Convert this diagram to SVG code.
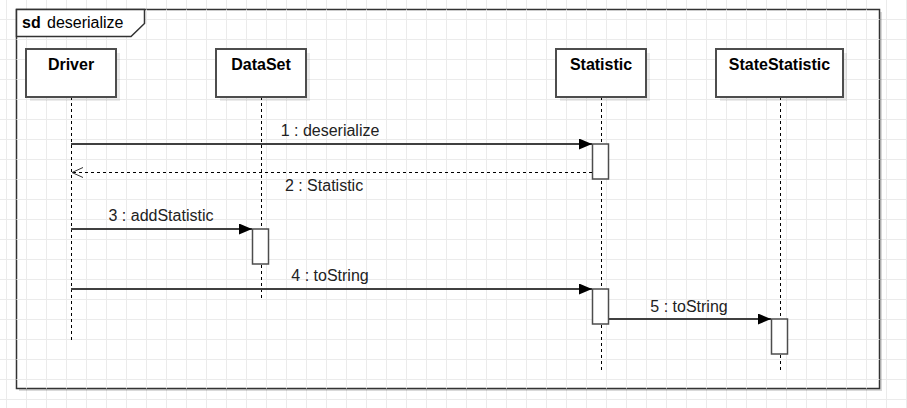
<svg xmlns="http://www.w3.org/2000/svg" width="907" height="408" viewBox="0 0 907 408">
<defs>
<pattern id="grid" x="6" y="-1" width="20" height="20" patternUnits="userSpaceOnUse">
<path d="M0.5 0V20M0 0.5H20" fill="none" stroke="#ebebeb" stroke-width="1"/>
</pattern>
<marker id="filled" viewBox="0 0 13 11" refX="13" refY="5.5" markerWidth="13" markerHeight="11" markerUnits="userSpaceOnUse" orient="auto">
<path d="M0 0L13 5.5L0 11Z" fill="#000"/>
</marker>
<marker id="open" viewBox="0 0 12 12" refX="11" refY="6" markerWidth="12" markerHeight="12" markerUnits="userSpaceOnUse" orient="auto">
<path d="M0 1L11 6L0 11" fill="none" stroke="#333" stroke-width="1"/>
</marker>
</defs>
<style>
.box{fill:#fff;stroke:#4d4d4d;stroke-width:2}
.shadow{fill:#000;opacity:0.08}
.life{stroke:#000;stroke-width:1;stroke-dasharray:3 3;fill:none}
.act{fill:#fff;stroke:#4d4d4d;stroke-width:1.5}
.msg{stroke:#404040;stroke-width:2;fill:none}
.ret{stroke:#000;stroke-width:1;stroke-dasharray:3 3;fill:none}
.title{font-family:"Liberation Sans",Arial,sans-serif;font-size:16px;font-weight:bold;fill:#000;text-anchor:middle}
.lbl{font-family:"Liberation Sans",Arial,sans-serif;font-size:16px;fill:#222;text-anchor:middle}
</style>
<rect width="907" height="408" fill="#fff"/>
<rect width="907" height="408" fill="url(#grid)"/>

<g id="frame">
<rect x="19" y="12" width="863" height="379" fill="#000" opacity="0.15"/>
<rect x="16.5" y="9.5" width="863" height="379" fill="#fff" stroke="#333" stroke-width="1.5"/>
<rect x="16.5" y="9.5" width="863" height="379" fill="url(#grid)" stroke="none"/>
<path d="M16.5 9.5H144.5V23.5L131 36.5H16.5Z" fill="#fff" stroke="#333" stroke-width="1.5"/>
<text x="22" y="28" font-family="'Liberation Sans',Arial,sans-serif" font-size="16" fill="#000"><tspan font-weight="bold">sd</tspan><tspan x="47"> </tspan><tspan x="47">deserialize</tspan></text>
</g>

<g id="lifeline-lines">
<line class="life" x1="71.5" y1="97" x2="71.5" y2="342"/>
<line class="life" x1="261.5" y1="97" x2="261.5" y2="298"/>
<line class="life" x1="601.5" y1="97" x2="601.5" y2="372"/>
<line class="life" x1="780.5" y1="97" x2="780.5" y2="372"/>
</g>

<g id="Driver">
<rect class="shadow" x="30" y="53" width="90" height="48"/>
<rect class="box" x="26" y="49" width="90" height="48"/>
<text class="title" x="71" y="70">Driver</text>
</g>
<g id="DataSet">
<rect class="shadow" x="220" y="53" width="90" height="48"/>
<rect class="box" x="216" y="49" width="90" height="48"/>
<text class="title" x="261" y="70">DataSet</text>
</g>
<g id="Statistic">
<rect class="shadow" x="560" y="53" width="90" height="48"/>
<rect class="box" x="556" y="49" width="90" height="48"/>
<text class="title" x="601" y="70">Statistic</text>
</g>
<g id="StateStatistic">
<rect class="shadow" x="720" y="53" width="127" height="48"/>
<rect class="box" x="716" y="49" width="127" height="48"/>
<text class="title" x="779.5" y="70">StateStatistic</text>
</g>

<g id="activations">
<rect class="act" x="592.5" y="144" width="16" height="35"/>
<rect class="act" x="252.5" y="229" width="16" height="35"/>
<rect class="act" x="592.5" y="289" width="16" height="35"/>
<rect class="act" x="771.5" y="319" width="16" height="35"/>
</g>

<g id="connectors">
<line class="msg" x1="71" y1="144" x2="592" y2="144" marker-end="url(#filled)"/>
<line class="ret" x1="592" y1="172.5" x2="72" y2="172.5" marker-end="url(#open)"/>
<line class="msg" x1="71" y1="229" x2="252" y2="229" marker-end="url(#filled)"/>
<line class="msg" x1="71" y1="289" x2="592" y2="289" marker-end="url(#filled)"/>
<line class="msg" x1="609" y1="319" x2="771" y2="319" marker-end="url(#filled)"/>
<text class="lbl" x="330" y="136">1 : deserialize</text>
<text class="lbl" x="324" y="191">2 : Statistic</text>
<text class="lbl" x="161" y="221">3 : addStatistic</text>
<text class="lbl" x="330" y="281">4 : toString</text>
<text class="lbl" x="689" y="312">5 : toString</text>
</g>
</svg>
